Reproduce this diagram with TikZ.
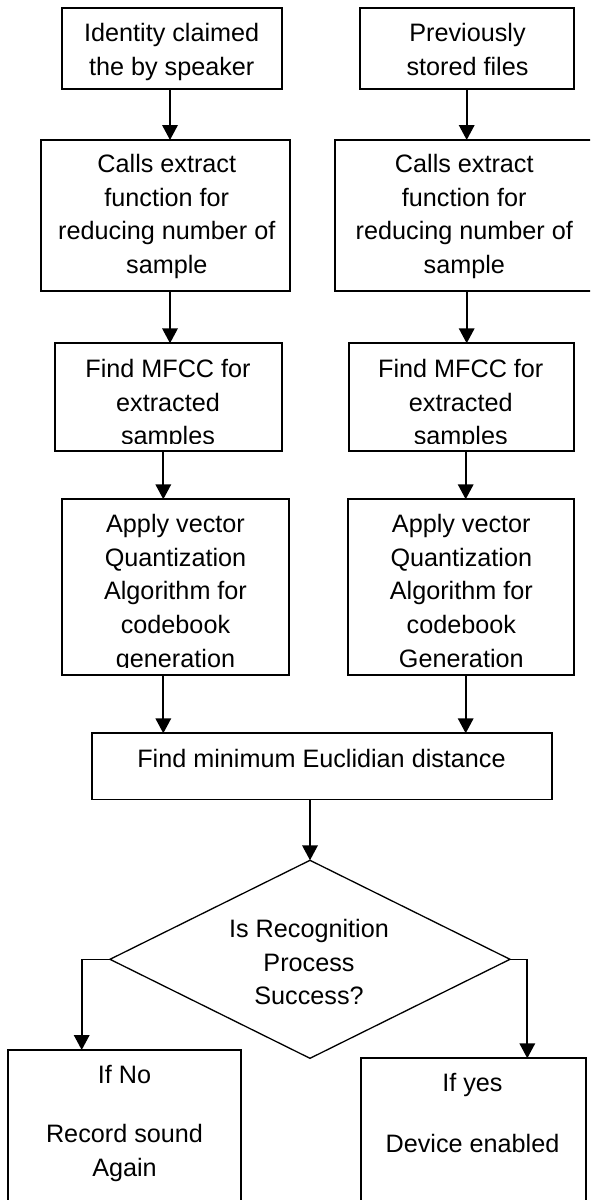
\documentclass[tikz,border=0pt]{standalone}
\usepackage{fontspec}
\setmainfont{Liberation Sans}
\usetikzlibrary{arrows.meta,shapes.geometric,fit}
\begin{document}
\begin{tikzpicture}[x=0.5pt,y=-0.5pt,
  box/.style={draw, line width=0.9pt, inner sep=0pt, outer sep=0pt},
  txt/.style={align=center, inner sep=0pt, anchor=north, font=\fontsize{12.6pt}{16.8pt}\selectfont},
  arr/.style={line width=1.1pt, -{Triangle[width=7.7pt,length=7.5pt]}},
  thinline/.style={line width=0.6pt}]
\clip (0,0) rectangle (590,1200);
\fill[white] (0,0) rectangle (590,1200);

% column coordinates
\coordinate (L1) at (170,0);
\coordinate (R1) at (466.7,0);
\coordinate (L2) at (163.3,0);
\coordinate (R2) at (465.7,0);

% boxes
\node[box, fit={(61.7,8.3) (282.3,89)}] (id) {};
\node[box, fit={(360,8.3) (574.3,89)}] (pf) {};
\node[box, fit={(41,140) (290,291)}] (c1) {};
\node[box, fit={(335,140) (610,291)}] (c2) {};
\node[box, fit={(55,343.3) (282.3,451)}] (m1) {};
\node[box, fit={(349,343.3) (574.3,451)}] (m2) {};
\node[box, fit={(61.7,499.3) (288.7,675)}] (q1) {};
\node[box, fit={(348.3,499.3) (574.3,675)}] (q2) {};
\node[box, fit={(92,733.3) (551.7,799.5)}] (e) {};
\node[draw, diamond, line width=0.65pt, minimum width=200pt, minimum height=99pt,
      inner sep=0pt, outer sep=0pt] (d) at (310,959.3) {};
\node[box, fit={(8.3,1050) (240.7,1240)}] (n) {};
\node[box, fit={(360.7,1058.3) (585.7,1240)}] (y) {};

% texts
\node[txt] (idt) at (171.7,23) {Identity claimed\\the by speaker};
\node[txt] (pft) at (467.5,23) {Previously\\stored files};
\node[txt] (c1t) at (166.8,154) {Calls extract\\function for\\reducing number of\\sample};
\node[txt] (c2t) at (464.3,154) {Calls extract\\function for\\reducing number of\\sample};
\begin{scope}
  \clip (55,343.3) rectangle (282.3,443);
  \node[txt] (m1t) at (168,359) {Find MFCC for\\extracted\\samples};
\end{scope}
\begin{scope}
  \clip (349,343.3) rectangle (574.3,443);
  \node[txt] (m2t) at (460.8,359) {Find MFCC for\\extracted\\samples};
\end{scope}
\begin{scope}
  \clip (61.7,499.3) rectangle (288.7,667);
  \node[txt] (q1t) at (175.5,514) {Apply vector\\Quantization\\Algorithm for\\codebook\\generation};
\end{scope}
\node[txt] (q2t) at (461.3,514) {Apply vector\\Quantization\\Algorithm for\\codebook\\Generation};
\node[txt] (et) at (321.5,749) {Find minimum Euclidian distance};
\node[txt] (dt) at (309,919) {Is Recognition\\Process\\Success?};
\node[txt] (nt) at (124.5,1065) {If No\\[12.8pt]Record sound\\Again};
\node[txt] (yt) at (472.5,1072.5) {If yes\\[14pt]Device enabled};

% connectors
\draw[arr] (id.south -| L1) -- (c1.north -| L1);
\draw[arr] (pf.south -| R1) -- (c2.north -| R1);
\draw[arr] (c1.south -| L1) -- (m1.north -| L1);
\draw[arr] (c2.south -| R1) -- (m2.north -| R1);
\draw[arr] (m1.south -| L2) -- (q1.north -| L2);
\draw[arr] (m2.south -| R2) -- (q2.north -| R2);
\draw[arr] (q1.south -| L2) -- (e.north -| L2);
\draw[arr] (q2.south -| R2) -- (e.north -| R2);
\draw[arr] (d.north |- e.south) -- (d.north);

\coordinate (nc) at (81.7,959.3);
\coordinate (yc) at (527.3,959.3);
\draw[thinline] (d.west) -- (nc);
\draw[arr] (nc) -- (n.north -| nc);
\draw[thinline] (d.east) -- (yc);
\draw[arr] (yc) -- (y.north -| yc);
\end{tikzpicture}
\end{document}
